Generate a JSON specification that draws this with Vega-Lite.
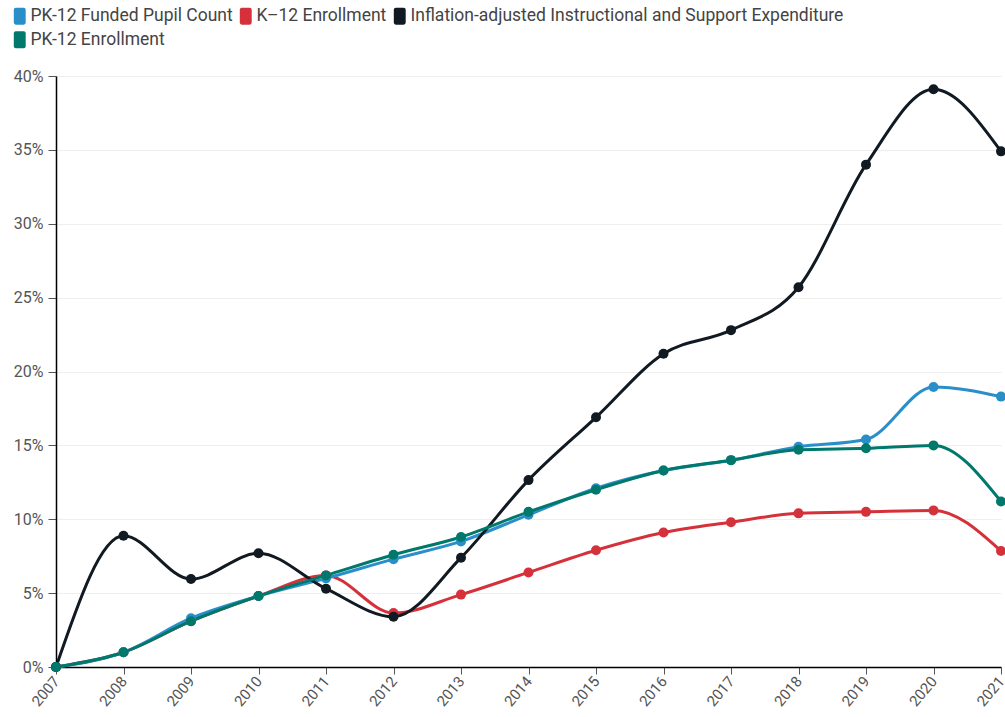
{
  "$schema": "https://vega.github.io/schema/vega-lite/v6.json",
  "width": 945,
  "height": 591,
  "autosize": "none",
  "padding": {"left": 56, "top": 76, "right": 4, "bottom": 50},
  "config": {
    "font": "Roboto",
    "view": {"stroke": null},
    "axis": {"labelFont": "Roboto", "labelColor": "#555555", "title": null}
  },
  "data": {
    "values": [
      {"year": 2007, "series": "K–12 Enrollment", "value": 0},
      {"year": 2008, "series": "K–12 Enrollment", "value": 0.010},
      {"year": 2009, "series": "K–12 Enrollment", "value": 0.031},
      {"year": 2010, "series": "K–12 Enrollment", "value": 0.048},
      {"year": 2011, "series": "K–12 Enrollment", "value": 0.062},
      {"year": 2012, "series": "K–12 Enrollment", "value": 0.0365},
      {"year": 2013, "series": "K–12 Enrollment", "value": 0.049},
      {"year": 2014, "series": "K–12 Enrollment", "value": 0.064},
      {"year": 2015, "series": "K–12 Enrollment", "value": 0.079},
      {"year": 2016, "series": "K–12 Enrollment", "value": 0.091},
      {"year": 2017, "series": "K–12 Enrollment", "value": 0.098},
      {"year": 2018, "series": "K–12 Enrollment", "value": 0.104},
      {"year": 2019, "series": "K–12 Enrollment", "value": 0.105},
      {"year": 2020, "series": "K–12 Enrollment", "value": 0.106},
      {"year": 2021, "series": "K–12 Enrollment", "value": 0.0785},
      {"year": 2007, "series": "PK-12 Funded Pupil Count", "value": 0},
      {"year": 2008, "series": "PK-12 Funded Pupil Count", "value": 0.010},
      {"year": 2009, "series": "PK-12 Funded Pupil Count", "value": 0.033},
      {"year": 2010, "series": "PK-12 Funded Pupil Count", "value": 0.048},
      {"year": 2011, "series": "PK-12 Funded Pupil Count", "value": 0.060},
      {"year": 2012, "series": "PK-12 Funded Pupil Count", "value": 0.073},
      {"year": 2013, "series": "PK-12 Funded Pupil Count", "value": 0.085},
      {"year": 2014, "series": "PK-12 Funded Pupil Count", "value": 0.103},
      {"year": 2015, "series": "PK-12 Funded Pupil Count", "value": 0.121},
      {"year": 2016, "series": "PK-12 Funded Pupil Count", "value": 0.133},
      {"year": 2017, "series": "PK-12 Funded Pupil Count", "value": 0.140},
      {"year": 2018, "series": "PK-12 Funded Pupil Count", "value": 0.149},
      {"year": 2019, "series": "PK-12 Funded Pupil Count", "value": 0.154},
      {"year": 2020, "series": "PK-12 Funded Pupil Count", "value": 0.1895},
      {"year": 2021, "series": "PK-12 Funded Pupil Count", "value": 0.183},
      {"year": 2007, "series": "Inflation-adjusted Instructional and Support Expenditure", "value": 0},
      {"year": 2008, "series": "Inflation-adjusted Instructional and Support Expenditure", "value": 0.0888},
      {"year": 2009, "series": "Inflation-adjusted Instructional and Support Expenditure", "value": 0.0595},
      {"year": 2010, "series": "Inflation-adjusted Instructional and Support Expenditure", "value": 0.077},
      {"year": 2011, "series": "Inflation-adjusted Instructional and Support Expenditure", "value": 0.053},
      {"year": 2012, "series": "Inflation-adjusted Instructional and Support Expenditure", "value": 0.034},
      {"year": 2013, "series": "Inflation-adjusted Instructional and Support Expenditure", "value": 0.074},
      {"year": 2014, "series": "Inflation-adjusted Instructional and Support Expenditure", "value": 0.1265},
      {"year": 2015, "series": "Inflation-adjusted Instructional and Support Expenditure", "value": 0.169},
      {"year": 2016, "series": "Inflation-adjusted Instructional and Support Expenditure", "value": 0.212},
      {"year": 2017, "series": "Inflation-adjusted Instructional and Support Expenditure", "value": 0.228},
      {"year": 2018, "series": "Inflation-adjusted Instructional and Support Expenditure", "value": 0.257},
      {"year": 2019, "series": "Inflation-adjusted Instructional and Support Expenditure", "value": 0.340},
      {"year": 2020, "series": "Inflation-adjusted Instructional and Support Expenditure", "value": 0.391},
      {"year": 2021, "series": "Inflation-adjusted Instructional and Support Expenditure", "value": 0.349},
      {"year": 2007, "series": "PK-12 Enrollment", "value": 0},
      {"year": 2008, "series": "PK-12 Enrollment", "value": 0.010},
      {"year": 2009, "series": "PK-12 Enrollment", "value": 0.031},
      {"year": 2010, "series": "PK-12 Enrollment", "value": 0.048},
      {"year": 2011, "series": "PK-12 Enrollment", "value": 0.062},
      {"year": 2012, "series": "PK-12 Enrollment", "value": 0.076},
      {"year": 2013, "series": "PK-12 Enrollment", "value": 0.088},
      {"year": 2014, "series": "PK-12 Enrollment", "value": 0.105},
      {"year": 2015, "series": "PK-12 Enrollment", "value": 0.120},
      {"year": 2016, "series": "PK-12 Enrollment", "value": 0.133},
      {"year": 2017, "series": "PK-12 Enrollment", "value": 0.140},
      {"year": 2018, "series": "PK-12 Enrollment", "value": 0.147},
      {"year": 2019, "series": "PK-12 Enrollment", "value": 0.148},
      {"year": 2020, "series": "PK-12 Enrollment", "value": 0.150},
      {"year": 2021, "series": "PK-12 Enrollment", "value": 0.112}
    ]
  },
  "encoding": {
    "x": {
      "field": "year",
      "type": "quantitative",
      "scale": {"domain": [2007, 2021], "nice": false, "zero": false},
      "axis": {
        "values": [2007, 2008, 2009, 2010, 2011, 2012, 2013, 2014, 2015, 2016, 2017, 2018, 2019, 2020, 2021],
        "format": "d",
        "labelAngle": -50,
        "labelAlign": "right",
        "labelBaseline": "middle",
        "labelFontSize": 15,
        "labelPadding": 4,
        "grid": false,
        "domainColor": "#000000",
        "domainWidth": 1.5,
        "tickColor": "#555555",
        "tickSize": 7,
        "labelFlush": false,
        "labelOverlap": false
      }
    },
    "y": {
      "field": "value",
      "type": "quantitative",
      "scale": {"domain": [0, 0.4], "nice": false},
      "axis": {
        "values": [0, 0.05, 0.1, 0.15, 0.2, 0.25, 0.3, 0.35, 0.4],
        "format": ".0%",
        "labelFontSize": 16,
        "labelPadding": 5,
        "gridColor": "#eeeeee",
        "domainColor": "#000000",
        "domainWidth": 1.5,
        "tickColor": "#555555",
        "tickSize": 8
      }
    },
    "color": {
      "field": "series",
      "type": "nominal",
      "scale": {
        "domain": ["PK-12 Funded Pupil Count", "K–12 Enrollment", "Inflation-adjusted Instructional and Support Expenditure", "PK-12 Enrollment"],
        "range": ["#2a8fc9", "#d5313b", "#111a22", "#00786c"]
      },
      "legend": {
        "orient": "none",
        "legendX": -45,
        "legendY": -69,
        "direction": "horizontal",
        "columns": 3,
        "title": null,
        "padding": 0,
        "columnPadding": 4,
        "rowPadding": 5,
        "symbolType": "M-0.46,-1 L0.46,-1 Q0.7,-1 0.7,-0.76 L0.7,0.76 Q0.7,1 0.46,1 L-0.46,1 Q-0.7,1 -0.7,0.76 L-0.7,-0.76 Q-0.7,-1 -0.46,-1 Z",
        "symbolSize": 289,
        "symbolStrokeWidth": 0,
        "symbolOpacity": 1,
        "labelOffset": 2,
        "labelFontSize": 17.5,
        "labelColor": "#444444",
        "labelLimit": 700,
        "labelFont": "Roboto",
        "encode": {
          "symbols": {"update": {"size": {"value": 289}, "strokeWidth": {"value": 0}, "opacity": {"value": 1}}}
        }
      }
    }
  },
  "layer": [
    {"mark": {"type": "line", "interpolate": "monotone", "strokeWidth": 3}},
    {"mark": {"type": "point", "filled": true, "size": 100, "opacity": 1}}
  ]
}
